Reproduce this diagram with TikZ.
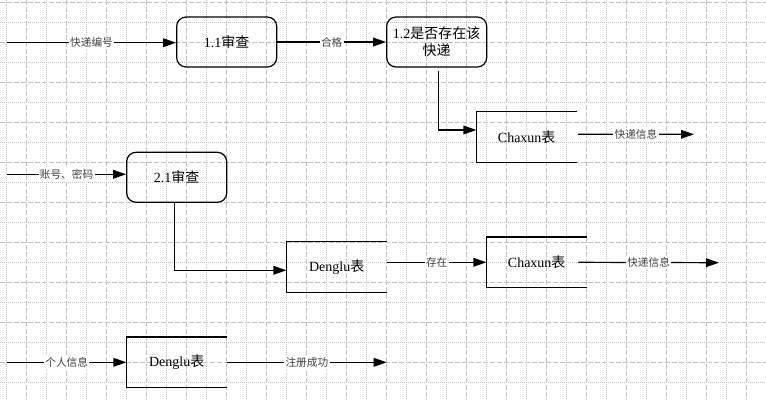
\documentclass[tikz,border=0pt]{standalone}
\usepackage{fontspec}
\setmainfont{Liberation Serif}
\newfontfamily\cjk{Noto Sans CJK SC}
\usetikzlibrary{arrows.meta,calc}
\definecolor{gridc}{HTML}{C0C0C0}
\begin{document}
\begin{tikzpicture}[x=0.75pt,y=-0.75pt,
  proc/.style={draw,line width=0.9pt,rounded corners=7pt,minimum width=75pt,minimum height=37.5pt,inner sep=0pt,align=center,font=\fontsize{10.5}{13}\selectfont},
  store/.style={minimum width=75pt,minimum height=37.5pt,inner sep=0pt,font=\fontsize{10.5}{13}\selectfont},
  storeline/.style={line width=0.9pt},
  arr/.style={line width=0.9pt,-{Triangle[length=9.75pt,width=6.5pt]}},
  lbl/.style={fill=white,inner sep=1pt,text=black!75,font=\fontsize{8}{9}\selectfont\cjk},
  gmajor/.style={gridc,line width=0.75pt,dash pattern=on 3.75pt off 1.5pt},
  gminor/.style={gridc,line width=0.75pt,dash pattern=on 0.75pt off 0.75pt}
]
\useasboundingbox (0,0) rectangle (766,400);
\fill[white] (0,0) rectangle (766,400);
% grid
\foreach \i in {0,...,37} {
  \pgfmathsetmacro\xx{6.67+20*\i}
  \ifodd\i \draw[gmajor] (\xx,0) -- (\xx,400); \else \draw[gminor] (\xx,0) -- (\xx,400); \fi
}
\foreach \j in {0,...,19} {
  \pgfmathsetmacro\yy{2.67+20*\j}
  \ifodd\j \draw[gminor] (0,\yy) -- (766,\yy); \else \draw[gmajor] (0,\yy) -- (766,\yy); \fi
}
% nodes
\node[proc] (p11) at (226.7,42) {1.1{\cjk 审查}};
\node[proc] (p12) at (436.7,42) {1.2{\cjk 是否存在该}\\{\cjk 快递}};
\node[store] (c1) at (526.7,137) {Chaxun{\cjk 表}};
\node[proc] (p21) at (176.7,177.3) {2.1{\cjk 审查}};
\node[store] (d1) at (336.7,267) {Denglu{\cjk 表}};
\node[store] (c2) at (536.7,262.3) {Chaxun{\cjk 表}};
\node[store] (d2) at (176.7,362.3) {Denglu{\cjk 表}};
\foreach \n in {c1,d1,c2,d2}
  \draw[storeline] (\n.north east) -- (\n.north west) -- (\n.south west) -- (\n.south east);
% free ends
\coordinate (s1) at (7,42.7);
\coordinate (s2) at (7,174.3);
\coordinate (s3) at (7,362.3);
\coordinate (e1) at (694,134.3);
\coordinate (e2) at (719,262.7);
\coordinate (e3) at (386.7,362.3);
% connectors
\draw[arr] (s1) -- node[lbl]{快递编号} (s1 -| p11.west);
\draw[arr] (p11.east) -- node[lbl]{合格} (p12.west);
\draw[arr] ($(p12.south)+(2,3)$) |- ($(c1.west)+(0,-7)$);
\draw[arr] ($(c1.east)+(1,-2.7)$) -- node[lbl]{快递信息} (e1);
\draw[arr] (s2) -- node[lbl]{账号、密码} (s2 -| p21.west);
\draw[arr] ($(p21.south)+(-2.4,0)$) |- ($(d1.west)+(0,3.3)$);
\draw[arr] (c2.west -| d1.east) -- node[lbl]{存在} (c2.west);
\draw[arr] ($(c2.east)+(-8.7,0)$) -- node[lbl]{快递信息} (e2);
\draw[arr] (s3) -- node[lbl]{个人信息} (d2.west);
\draw[arr] (d2.east) -- node[lbl]{注册成功} (e3);
\end{tikzpicture}
\end{document}
